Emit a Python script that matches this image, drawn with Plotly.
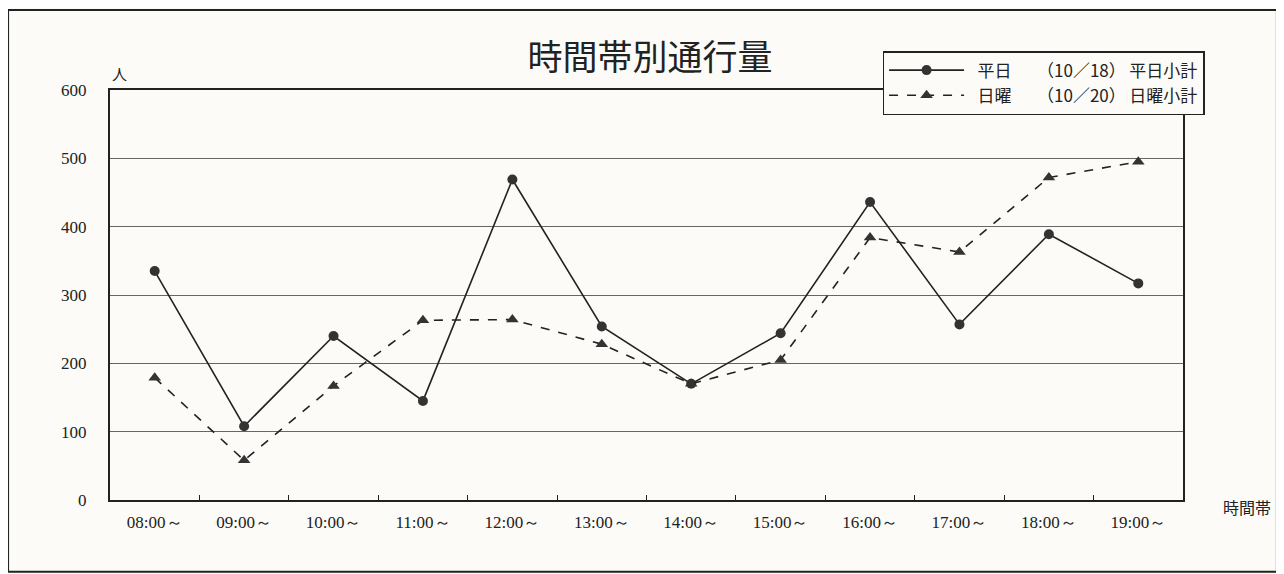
"""時間帯別通行量 — 平日 / 日曜 の折れ線比較."""

import plotly.graph_objects as go

HOURS = ["08:00～", "09:00～", "10:00～", "11:00～", "12:00～", "13:00～",
         "14:00～", "15:00～", "16:00～", "17:00～", "18:00～", "19:00～"]
WEEKDAY = [335, 108, 240, 145, 469, 254, 170, 244, 436, 257, 389, 317]
SUNDAY = [179, 58, 167, 263, 264, 228, 170, 205, 384, 363, 472, 495]
Y_TICKS = [0, 100, 200, 300, 400, 500, 600]

INK = "#222222"
BG = "#fcfbf7"
SERIF = "Liberation Serif, DejaVu Serif, serif"
JP = "Noto Sans CJK JP, sans-serif"

fig = go.Figure()
fig.add_trace(go.Scatter(
    x=HOURS, y=WEEKDAY, mode="lines+markers",
    name="\u2002平日\u3000\u2002（10／18）\u2009平日小計",
    line=dict(color=INK, width=1.6),
    marker=dict(symbol="circle", size=10, color="#333333"),
))
fig.add_trace(go.Scatter(
    x=HOURS, y=SUNDAY, mode="lines+markers",
    name="\u2002日曜\u3000\u2002（10／20）\u2009日曜小計",
    line=dict(color=INK, width=1.6, dash="dash"),
    marker=dict(symbol="triangle-up", size=11, color="#333333"),
))

# ページ余白(8px)を差し引いた余白
fig.update_layout(
    width=1284,
    height=574,
    margin=dict(l=102, r=109, t=82, b=82),
    paper_bgcolor=BG,
    plot_bgcolor=BG,
    title=dict(
        text="時間帯別通行量",
        x=0.5, xanchor="center", y=0.914, yanchor="middle",
        font=dict(size=35, color=INK, family=JP),
    ),
    legend=dict(
        x=0.72, y=1.095, xanchor="left", yanchor="top",
        bgcolor=BG, bordercolor=INK, borderwidth=1.5,
        font=dict(size=17, color=INK, family=JP),
        itemwidth=75, tracegroupgap=0,
    ),
    showlegend=True,
)
fig.update_xaxes(
    type="category", range=[-0.5, len(HOURS) - 0.5],
    showline=True, linecolor=INK, linewidth=2, mirror=True,
    ticks="inside", tickson="boundaries", ticklen=5, tickcolor=INK,
    showgrid=False,
    tickfont=dict(size=17, color=INK, family=SERIF),
    ticklabelstandoff=6,
)
fig.update_yaxes(
    range=[0, 600], tickvals=Y_TICKS,
    showline=True, linecolor=INK, linewidth=2, mirror=True,
    gridcolor="#666666", gridwidth=1, zeroline=False,
    tickfont=dict(size=17, color=INK, family=SERIF),
    ticklabelstandoff=18,
)

# 単位ラベルと軸名
fig.add_annotation(text="人", xref="paper", yref="paper", x=0.0, y=1.07,
                   showarrow=False, font=dict(size=15, color=INK, family=JP))
fig.add_annotation(text="時間帯", xref="paper", yref="paper", x=1.084, y=-0.05,
                   showarrow=False, font=dict(size=16, color=INK, family=JP))

# 外枠
fig.add_shape(type="rect", xref="paper", yref="paper",
              x0=-0.095, x1=1.0875, y0=-0.175, y1=1.195,
              line=dict(color=INK, width=2))

fig.write_html("out.html")
